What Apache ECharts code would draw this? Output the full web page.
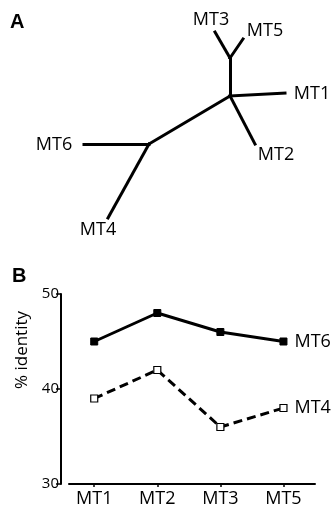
<!DOCTYPE html>
<html>
<head>
<meta charset="utf-8">
<script src="https://cdn.jsdelivr.net/npm/echarts@6/dist/echarts.min.js"></script>
<style>
  html, body { margin: 0; padding: 0; background: #fff; }
  #chart { width: 334px; height: 508px; }
</style>
</head>
<body>
<div id="chart"></div>
<script>
// panel A: unrooted tree, node positions in tree units
const nodeNames = ['n1', 'n2', 'n3', 'MT1', 'MT2', 'MT3', 'MT4', 'MT5', 'MT6'];
const nodeX = [149, 230, 230, 285, 255, 215, 108, 243, 84];
const nodeY = [144, 96, 58, 93, 144, 32, 218, 39, 144];
const edgeFrom = ['n1', 'n1', 'n1', 'n2', 'n2', 'n2', 'n3', 'n3'];
const edgeTo = ['n2', 'MT6', 'MT4', 'MT1', 'MT2', 'n3', 'MT3', 'MT5'];

// panel B: % identity
const categories = ['MT1', 'MT2', 'MT3', 'MT5'];
const mt6Values = [45, 48, 46, 45];
const mt4Values = [39, 42, 36, 38];
const yTicks = [30, 40, 50];

const FONT = '"Open Sans", "Noto Sans", sans-serif';

// label placement for leaves (offset of label centre from branch tip)
const LABEL_OFFSET = {
  MT1: [27, 1], MT2: [21, 11], MT3: [-4, -12],
  MT4: [-10, 12], MT5: [22, -8], MT6: [-30, 1],
};

const chart = echarts.init(document.getElementById('chart'), null, { renderer: 'canvas' });

const treeNodes = nodeNames.map((name, i) => {
  const off = LABEL_OFFSET[name];
  return {
    name,
    value: [nodeX[i], nodeY[i]],
    label: off
      ? { show: true, position: 'inside', offset: off, formatter: name }
      : { show: false },
  };
});
const treeLinks = edgeFrom.map((s, i) => ({ source: s, target: edgeTo[i] }));

const toPoints = (values) => values.map((v, i) => [i, v]);

chart.setOption({
  animation: false,
  backgroundColor: '#fff',
  textStyle: { fontFamily: FONT },
  grid: [
    { left: 69, right: 19, top: 294, bottom: 24 },
    { left: 0, top: 0, width: 334, height: 250 },
  ],
  xAxis: [
    {
      gridIndex: 0,
      type: 'value',
      min: -0.4,
      max: 3.5,
      splitLine: { show: false },
      axisLine: { show: true, onZero: false, lineStyle: { color: '#000', width: 2 } },
      axisTick: {
        show: true, customValues: categories.map((c, i) => i),
        length: 3, lineStyle: { color: '#000', width: 1.5 },
      },
      axisLabel: {
        customValues: categories.map((c, i) => i),
        formatter: (v) => categories[Math.round(v)] || '',
        color: '#000', fontSize: 18, margin: 6, fontFamily: FONT,
      },
    },
    { gridIndex: 1, type: 'value', min: 0, max: 334, show: false },
  ],
  yAxis: [
    {
      gridIndex: 0,
      type: 'value',
      min: 30,
      max: 50,
      interval: 10,
      offset: 8,
      splitLine: { show: false },
      axisLine: { show: true, onZero: false, lineStyle: { color: '#000', width: 2 } },
      axisTick: { show: true, length: 5, lineStyle: { color: '#000', width: 1.5 } },
      axisLabel: {
        color: '#000', fontSize: 15, margin: 2, fontFamily: FONT,
        formatter: (v) => (yTicks.includes(v) ? String(v) : ''),
      },
      name: '% identity',
      nameLocation: 'middle',
      nameGap: 27,
      nameTextStyle: { color: '#000', fontSize: 17, fontFamily: FONT, padding: [0, 0, 0, 78] },
    },
    { gridIndex: 1, type: 'value', min: 0, max: 250, inverse: true, show: false },
  ],
  graphic: [
    { type: 'text', left: 10, top: 12, style: { text: 'A', font: 'bold 20px "Liberation Sans", Arial, sans-serif', fill: '#000' } },
    { type: 'text', left: 12, top: 266, style: { text: 'B', font: 'bold 20px "Liberation Sans", Arial, sans-serif', fill: '#000' } },
  ],
  series: [
    {
      type: 'graph',
      coordinateSystem: 'cartesian2d',
      xAxisIndex: 1,
      yAxisIndex: 1,
      symbol: 'circle',
      symbolSize: 1,
      itemStyle: { color: '#000' },
      lineStyle: { color: '#000', width: 3, opacity: 1, cap: 'square' },
      label: { color: '#000', fontSize: 18, fontFamily: FONT },
      data: treeNodes,
      links: treeLinks,
      silent: true,
    },
    {
      name: 'MT6',
      type: 'line',
      xAxisIndex: 0,
      yAxisIndex: 0,
      data: toPoints(mt6Values),
      symbol: 'rect',
      symbolSize: 7,
      itemStyle: { color: '#000', borderColor: '#000', borderWidth: 1 },
      lineStyle: { color: '#000', width: 3 },
      endLabel: { show: true, formatter: 'MT6', color: '#000', fontSize: 18, fontFamily: FONT, distance: 11 },
    },
    {
      name: 'MT4',
      type: 'line',
      xAxisIndex: 0,
      yAxisIndex: 0,
      data: toPoints(mt4Values),
      symbol: 'rect',
      symbolSize: 7,
      itemStyle: { color: '#fff', borderColor: '#000', borderWidth: 1.2 },
      lineStyle: { color: '#000', width: 3, type: [9, 5] },
      endLabel: { show: true, formatter: 'MT4', color: '#000', fontSize: 18, fontFamily: FONT, distance: 11 },
      z: 3,
    },
  ],
});
</script>
</body>
</html>
